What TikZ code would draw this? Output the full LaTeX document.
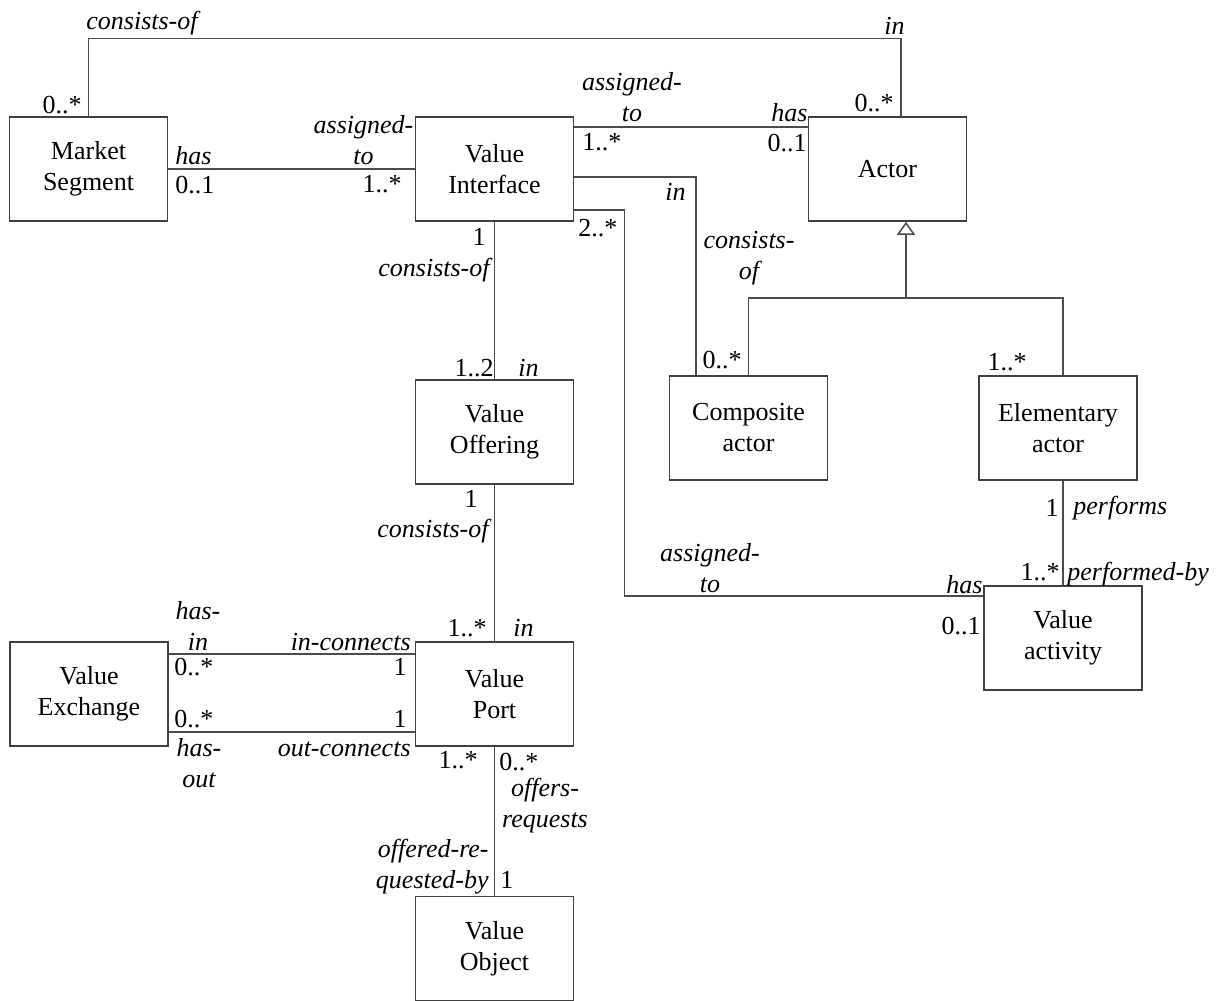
\documentclass[tikz,border=0pt]{standalone}
\usepackage{fontspec}
\setmainfont{Liberation Serif}
\usetikzlibrary{arrows.meta}

\begin{document}
\begin{tikzpicture}[x=0.5pt,y=-0.5pt,
    concept/.style={draw=black!75,line width=0.75pt,minimum width=\metaboxwidth,minimum height=\metaboxheight,
      inner sep=0pt,align=center,font=\fontsize{13}{15.5}\selectfont},
    link/.style={draw=black!70,line width=0.75pt},
    role/.style={inner sep=0pt,align=center,font=\fontsize{13}{15.5}\selectfont\itshape},
    mult/.style={inner sep=0pt,font=\fontsize{13}{15.5}\selectfont}]
        \newcommand{\metaboxwidth}{79pt}
        \newcommand{\metaboxheight}{52pt}
        \useasboundingbox (0,0) rectangle (1222,1001);
        \node[concept] (ms) at (88.5,169) {Market\\Segment};
        \node[concept] (vi) at (494.5,169) {Value\\Interface};
        \node[concept] (act) at (887.5,169) {Actor};
        \node[concept] (comp) at (748.5,428) {Composite\\actor};
        \node[concept] (elem) at (1058,428) {Elementary\\actor};
        \node[concept] (voff) at (494.5,432) {Value\\Offering};
        \node[concept] (vact) at (1063,638) {Value\\activity};
        \node[concept] (vex) at (89,694) {Value\\Exchange};
        \node[concept] (vport) at (494.5,694) {Value\\Port};
        \node[concept] (vobj) at (494.5,948.5) {Value\\Object};
        \coordinate (genjoint) at (906,298);
        \draw[link] (ms.north) |- ([xshift=6.75pt,yshift=39pt]act.north) -- ([xshift=6.75pt]act.north);
        \draw[link] (ms) -- (vi);
        \draw[link] ([yshift=21pt]vi.east) -- ([yshift=21pt]act.west);
        \draw[link] ([yshift=-4pt]vi.east) -| ([xshift=-26.25pt]comp.north);
        \draw[link] ([yshift=-20.5pt]vi.east) -- ++(50,0) |- ([yshift=21pt]vact.west);
        \draw[link] (vi) -- (voff);
        \draw[link] (voff) -- (vport);
        \draw[link] (vport) -- (vobj);
        \draw[link] ([yshift=20pt]vex.east) -- ([yshift=20pt]vport.west);
        \draw[link] ([yshift=-19pt]vex.east) -- ([yshift=-19pt]vport.west);
        \draw[link] ([xshift=2.5pt]elem.south) -- (vact.north);
        \draw[link] (comp.north) |- (genjoint) -| ([xshift=2.5pt]elem.north);
        \draw[link,-{Triangle[open,length=6.5pt,width=9pt]}] (genjoint) -- ([xshift=9.25pt]act.south);
        \node[role,anchor=base west] (msconsists) at (86,29) {consists-of};
        \node[role,anchor=base east] (actin) at (905,34) {in};
        \node[mult,anchor=base east] (msmany) at (82,113) {0..*};
        \node[mult,anchor=base east] (actmany) at (894,112) {0..*};
        \node[role,anchor=base west] (mshas) at (175,164) {has};
        \node[mult,anchor=base west] (msone) at (175,193) {0..1};
        \node[role,anchor=base] (viassign) at (363.5,164) {assigned-\\to};
        \node[mult,anchor=base east] (vimany) at (402,192) {1..*};
        \node[role,anchor=base] (viactassign) at (632,121) {assigned-\\to};
        \node[mult,anchor=base west] (viactmany) at (582,150) {1..*};
        \node[role,anchor=base east] (acthas) at (808,121) {has};
        \node[mult,anchor=base east] (actone) at (807,151) {0..1};
        \node[role,anchor=base east] (compin) at (686,200) {in};
        \node[role,anchor=base] (compconsists) at (749,279) {consists-\\of};
        \node[mult,anchor=base] (compmany) at (722,368) {0..*};
        \node[mult,anchor=base west] (vimanytwo) at (578,236) {2..*};
        \node[role,anchor=base] (vactassign) at (710,592) {assigned-\\to};
        \node[role,anchor=base east] (vacthas) at (983,593) {has};
        \node[mult,anchor=base east] (vactone) at (981,634) {0..1};
        \node[mult,anchor=base east] (vione) at (486,245) {1};
        \node[role,anchor=base east] (viconsists) at (490,276) {consists-of};
        \node[mult,anchor=base east] (vofftwo) at (494,376) {1..2};
        \node[role,anchor=base west] (voffin) at (518,376) {in};
        \node[mult,anchor=base east] (elemmany) at (1027,370) {1..*};
        \node[mult,anchor=base east] (elemone) at (1059,516) {1};
        \node[role,anchor=base west] (elemperforms) at (1073,514) {performs};
        \node[mult,anchor=base east] (vactmany) at (1060,580) {1..*};
        \node[role,anchor=base west] (vactperformed) at (1067,580) {performed-by};
        \node[mult,anchor=base east] (voffone) at (478,507) {1};
        \node[role,anchor=base east] (voffconsists) at (489,537) {consists-of};
        \node[mult,anchor=base east] (vportmany) at (487,636) {1..*};
        \node[role,anchor=base west] (vportin) at (513,636) {in};
        \node[role,anchor=base] (vexhasin) at (198,650) {has-\\in};
        \node[role,anchor=base east] (vportinconn) at (411,650) {in-connects};
        \node[mult,anchor=base west] (vexinmany) at (174,675) {0..*};
        \node[mult,anchor=base east] (vportinone) at (407,675) {1};
        \node[mult,anchor=base west] (vexoutmany) at (174,727) {0..*};
        \node[mult,anchor=base east] (vportoutone) at (407,727) {1};
        \node[role,anchor=base] (vexhasout) at (199,787) {has-\\out};
        \node[role,anchor=base east] (vportoutconn) at (411,756) {out-connects};
        \node[mult,anchor=base east] (vportmanytwo) at (478,768) {1..*};
        \node[mult,anchor=base west] (vportzero) at (499,770) {0..*};
        \node[role,anchor=base] (vportoffers) at (545,827) {offers-\\requests};
        \node[role,anchor=base east,align=right] (vobjoffered) at (489,888) {offered-re-\\quested-by};
        \node[mult,anchor=base west] (vobjone) at (500,888) {1};
\end{tikzpicture}
\end{document}
